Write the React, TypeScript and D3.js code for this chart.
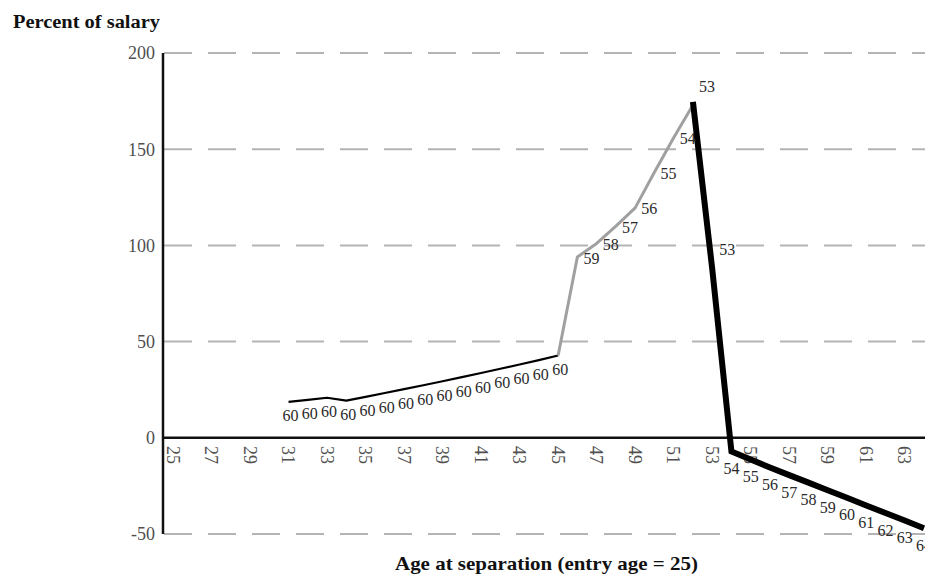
import React from "react";
import * as d3 from "d3";

const ages = [25, 26, 27, 28, 29, 30, 31, 32, 33, 34, 35, 36, 37, 38, 39, 40, 41, 42, 43, 44, 45, 46, 47, 48, 49, 50, 51, 52, 53, 54, 55, 56, 57, 58, 59, 60, 61, 62, 63, 64];
const tickAges = [25, 27, 29, 31, 33, 35, 37, 39, 41, 43, 45, 47, 49, 51, 53, 55, 57, 59, 61, 63];
const yTicks = [200, 150, 100, 50, 0, -50];
const gridValues = [200, 150, 100, 50, -50];

const thinAges = [31, 32, 33, 34, 35, 36, 37, 38, 39, 40, 41, 42, 43, 44, 45];
const thinValues = [18.7, 19.7, 20.8, 19.3, 21.3, 23.3, 25.3, 27.3, 29.4, 31.5, 33.7, 35.9, 38.1, 40.4, 42.8];
const thinLabels = ["60", "60", "60", "60", "60", "60", "60", "60", "60", "60", "60", "60", "60", "60", "60"];

const grayAges = [45, 46, 47, 48, 49, 50, 51, 52];
const grayValues = [42.8, 94, 101, 110, 119.5, 138, 156, 173];
const grayLabels = ["", "59", "58", "57", "56", "55", "54", ""];

const thickAges = [52, 53, 54, 55, 56, 57, 58, 59, 60, 61, 62, 63, 64];
const thickValues = [174.6, 88, -7.1, -11.3, -15.4, -19.4, -23.3, -27.3, -31.2, -35.2, -39.1, -43.0, -47.0];
const thickLabels = ["53", "53", "54", "55", "56", "57", "58", "59", "60", "61", "62", "63", "64"];

const FONT = "'Liberation Serif', 'DejaVu Serif', serif";

export default function App() {
  const W = 925;
  const H = 577;
  const x = d3.scalePoint<number>().domain(ages).range([173, 924]);
  const y = d3.scaleLinear().domain([-50, 200]).range([534, 53]);
  const axisX = 163;

  const line = d3
    .line<[number, number]>()
    .x((d) => x(d[0]) as number)
    .y((d) => y(d[1]));

  const thinPts = thinAges.map((a, i) => [a, thinValues[i]] as [number, number]);
  const grayPts = grayAges.map((a, i) => [a, grayValues[i]] as [number, number]);
  const thickPts = thickAges.map((a, i) => [a, thickValues[i]] as [number, number]);

  const labelStyle = { fontFamily: FONT, fontSize: 16, fill: "#2a2a2a" } as const;

  return (
    <div style={{ position: "absolute", left: 0, top: 0, width: W, height: H, background: "#fff" }}>
      <svg width={W} height={H} style={{ display: "block" }}>
        <rect x={0} y={0} width={W} height={H} fill="#fff" />
        {/* gridlines */}
        {gridValues.map((v) => (
          <line
            key={"g" + v}
            x1={axisX + 1}
            x2={W}
            y1={y(v)}
            y2={y(v)}
            stroke="#b4b4b4"
            strokeWidth={2}
            strokeDasharray="28,16"
          />
        ))}
        {/* y axis labels */}
        {yTicks.map((v) => (
          <text
            key={"yt" + v}
            x={155}
            y={y(v)}
            dy="0.35em"
            textAnchor="end"
            fontFamily={FONT}
            fontSize={18}
            fill="#505050"
          >
            {v}
          </text>
        ))}
        {/* x tick labels, rotated */}
        {tickAges.map((a) => (
          <text
            key={"xt" + a}
            transform={`translate(${x(a)},${446}) rotate(90)`}
            dy="0.35em"
            textAnchor="start"
            fontFamily={FONT}
            fontSize={18}
            fill="#505050"
          >
            {a}
          </text>
        ))}
        {/* series */}
        <path d={line(thinPts) || ""} fill="none" stroke="#000" strokeWidth={2.2} strokeLinejoin="round" />
        <path d={line(grayPts) || ""} fill="none" stroke="#a0a0a0" strokeWidth={3} strokeLinejoin="round" />
        {/* axes */}
        <line x1={axisX} x2={axisX} y1={y(200)} y2={y(-50)} stroke="#111" strokeWidth={2.5} />
        <line x1={axisX} x2={W} y1={y(0)} y2={y(0)} stroke="#111" strokeWidth={2.5} />
        <path d={line(thickPts) || ""} fill="none" stroke="#000" strokeWidth={6} strokeLinejoin="miter" />
        {/* data labels */}
        {thinPts.map((p, i) => (
          <text key={"tl" + i} x={(x(p[0]) as number) + 2} y={y(p[1]) + 14} dy="0.35em" textAnchor="middle" {...labelStyle}>
            {thinLabels[i]}
          </text>
        ))}
        {grayPts.map((p, i) =>
          grayLabels[i] ? (
            <text key={"gl" + i} x={(x(p[0]) as number) + 6} y={y(p[1]) + 1} dy="0.35em" textAnchor="start" {...labelStyle}>
              {grayLabels[i]}
            </text>
          ) : null
        )}
        {thickPts.map((p, i) => {
          const px = x(p[0]) as number;
          const py = y(p[1]);
          let lx = px;
          let ly = py + 17;
          let anchor = "middle";
          if (i === 0) {
            lx = px + 14;
            ly = py - 15;
          } else if (i === 1) {
            lx = px + 7;
            ly = py - 19;
            anchor = "start";
          }
          return (
            <text key={"kl" + i} x={lx} y={ly} dy="0.35em" textAnchor={anchor} {...labelStyle}>
              {thickLabels[i]}
            </text>
          );
        })}
        {/* titles */}
        <text
          x={13}
          y={28}
          fontFamily={FONT}
          fontSize={18}
          fontWeight="bold"
          fill="#111"
          textLength={147}
          lengthAdjust="spacingAndGlyphs"
        >
          Percent of salary
        </text>
        <text
          x={395}
          y={570}
          fontFamily={FONT}
          fontSize={19}
          fontWeight="bold"
          fill="#111"
          textLength={303}
          lengthAdjust="spacingAndGlyphs"
        >
          Age at separation (entry age = 25)
        </text>
      </svg>
    </div>
  );
}
